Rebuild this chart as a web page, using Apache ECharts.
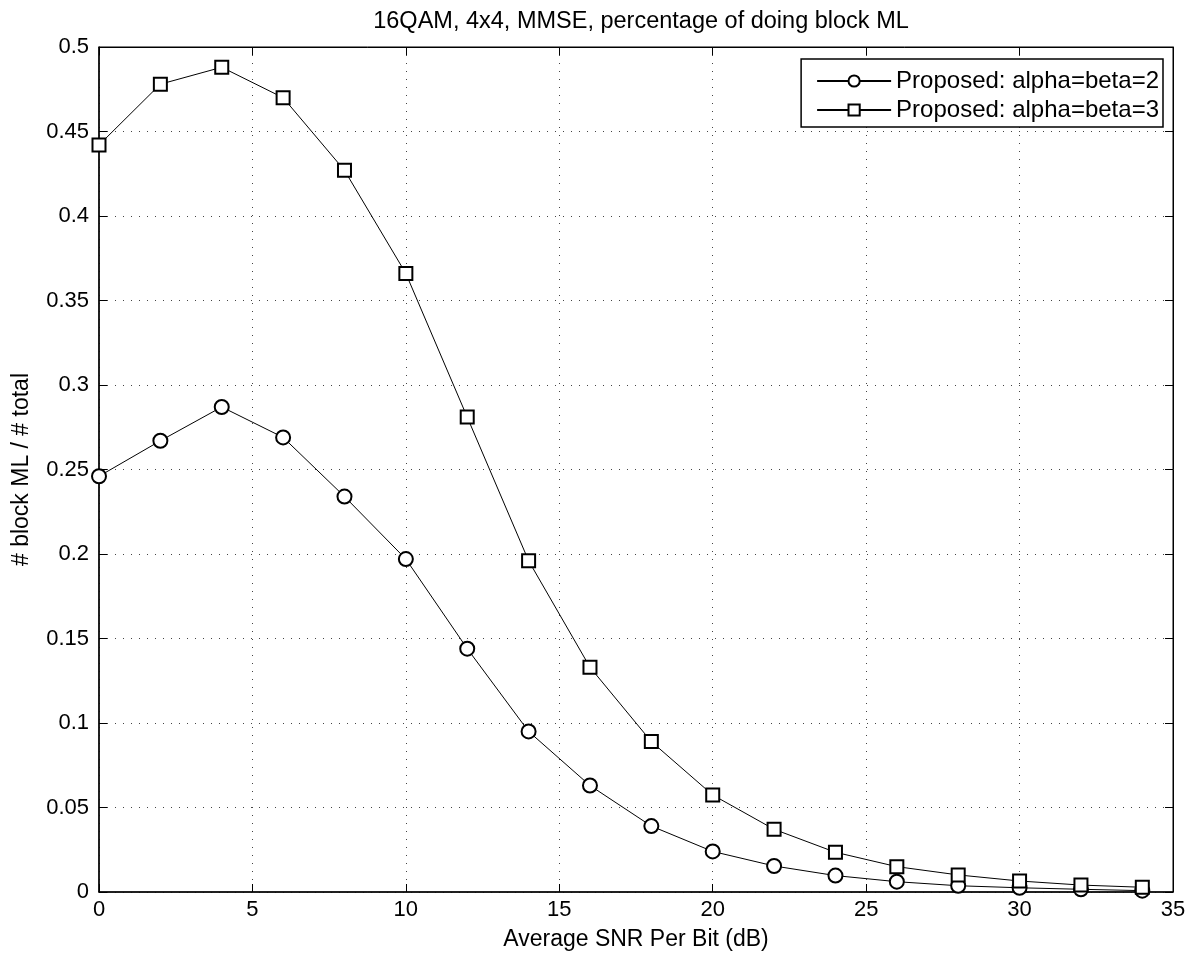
<!DOCTYPE html>
<html>
<head>
<meta charset="utf-8">
<script src="https://cdn.jsdelivr.net/npm/echarts@6/dist/echarts.min.js"></script>
<style>
html,body{margin:0;padding:0;background:#fff;}
#chart{width:1199px;height:959px;}
</style>
</head>
<body>
<div id="chart"></div>
<script>
const snr = [0, 2, 4, 6, 8, 10, 12, 14, 16, 18, 20, 22, 24, 26, 28, 30, 32, 34];
const alphaBeta2 = [0.246, 0.267, 0.287, 0.269, 0.234, 0.197, 0.144, 0.095, 0.063, 0.039, 0.024, 0.0154, 0.0097, 0.0061, 0.0037, 0.0025, 0.0016, 0.0008];
const alphaBeta3 = [0.442, 0.478, 0.488, 0.470, 0.427, 0.366, 0.281, 0.196, 0.133, 0.089, 0.0574, 0.0371, 0.0235, 0.0150, 0.0101, 0.0065, 0.0041, 0.0028];
const seriesNames = ['Proposed: alpha=beta=2', 'Proposed: alpha=beta=3'];
const titleText = '16QAM, 4x4, MMSE, percentage of doing block ML';
const xName = 'Average SNR Per Bit (dB)';
const yName = '# block ML / # total';

const font = 'Liberation Sans, Arial, Helvetica, sans-serif';
const chart = echarts.init(document.getElementById('chart'));
const pair = (xs, ys) => xs.map((x, i) => [x, ys[i]]);
const gridLine = {show: true, lineStyle: {color: '#444', type: [1, 7], width: 1}};
chart.setOption({
  animation: false,
  backgroundColor: '#fff',
  title: {
    text: titleText, left: 636, top: 5, textAlign: 'center',
    textStyle: {fontFamily: font, fontSize: 23.5, fontWeight: 'normal', color: '#000'}
  },
  grid: {left: 99, right: 26, top: 47, bottom: 67, show: true, borderColor: '#000', borderWidth: 1},
  legend: {
    orient: 'vertical', right: 36, top: 59,
    backgroundColor: '#fff', borderColor: '#000', borderWidth: 1.5, borderRadius: 0,
    padding: [10, 4, 5, 15], itemGap: 5, itemWidth: 74, itemHeight: 14,
    textStyle: {fontFamily: font, fontSize: 24, color: '#000', lineHeight: 24},
    data: seriesNames
  },
  xAxis: [{
    type: 'value', min: 0, max: 35, interval: 5,
    name: xName, nameLocation: 'middle', nameGap: 36,
    nameTextStyle: {fontFamily: font, fontSize: 23, color: '#000'},
    axisLine: {show: true, onZero: false, lineStyle: {color: '#000', width: 1.5}},
    axisTick: {show: true, inside: true, length: 8, lineStyle: {color: '#000'}},
    axisLabel: {fontFamily: font, fontSize: 22, color: '#000', margin: 7},
    splitLine: gridLine
  }, {
    type: 'value', min: 0, max: 35, interval: 5, position: 'top',
    axisLine: {show: true, onZero: false, lineStyle: {color: '#000'}},
    axisTick: {show: true, inside: true, length: 8, lineStyle: {color: '#000'}},
    axisLabel: {show: false}, splitLine: {show: false}
  }],
  yAxis: [{
    type: 'value', min: 0, max: 0.5, interval: 0.05,
    name: yName, nameLocation: 'middle', nameGap: 66,
    nameTextStyle: {fontFamily: font, fontSize: 23, color: '#000'},
    axisLine: {show: true, onZero: false, lineStyle: {color: '#000', width: 1.5}},
    axisTick: {show: true, inside: true, length: 8, lineStyle: {color: '#000'}},
    axisLabel: {fontFamily: font, fontSize: 22, color: '#000', margin: 10,
      formatter: v => String(parseFloat(v.toFixed(2)))},
    splitLine: gridLine
  }, {
    type: 'value', min: 0, max: 0.5, interval: 0.05, position: 'right',
    axisLine: {show: true, onZero: false, lineStyle: {color: '#000'}},
    axisTick: {show: true, inside: true, length: 8, lineStyle: {color: '#000'}},
    axisLabel: {show: false}, splitLine: {show: false}
  }],
  series: [{
    name: seriesNames[0], type: 'line', data: pair(snr, alphaBeta2),
    symbol: 'emptyCircle', symbolSize: 14,
    lineStyle: {color: '#000', width: 1}, itemStyle: {color: '#000', borderColor: '#111', borderWidth: 1}
  }, {
    name: seriesNames[1], type: 'line', data: pair(snr, alphaBeta3),
    symbol: 'emptyRect', symbolSize: 13,
    lineStyle: {color: '#000', width: 1}, itemStyle: {color: '#000', borderColor: '#111', borderWidth: 1}
  }]
});
</script>
</body>
</html>
